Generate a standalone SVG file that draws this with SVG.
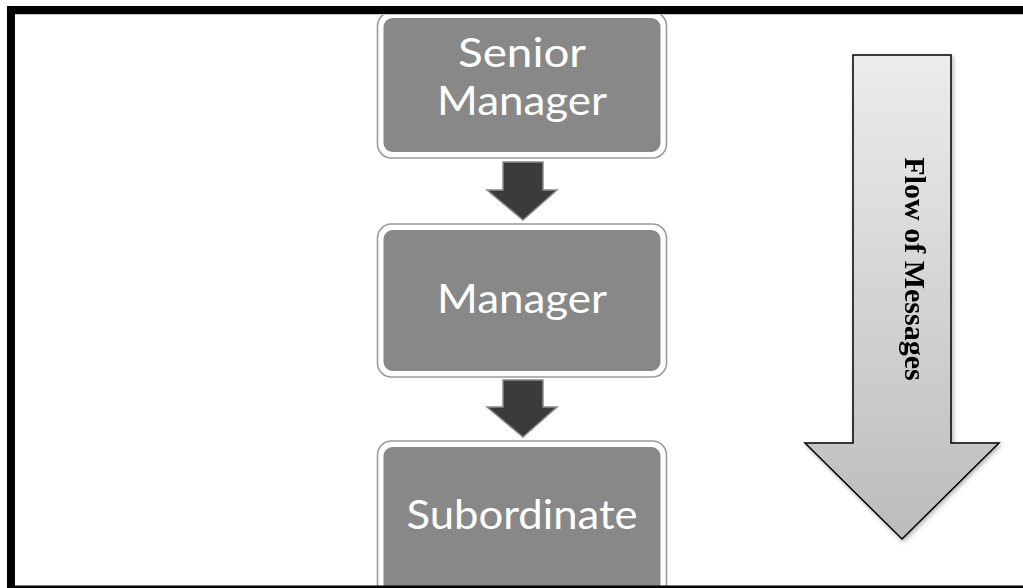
<svg xmlns="http://www.w3.org/2000/svg" width="1023" height="588" viewBox="0 0 1023 588">
  <style>
    .box-edge { fill: none; stroke: #9c9c9c; stroke-width: 1.6; }
    .box-body { fill: #888888; stroke: #ffffff; stroke-width: 4; }
    .box-text { font-family: Lato, "Open Sans", "Liberation Sans", sans-serif; font-size: 40px; fill: #ffffff; text-anchor: middle; }
    .step { fill: #3b3b3b; stroke: #8a8a8a; stroke-width: 1.5; stroke-linejoin: miter; }
    .flow-text { font-family: "Liberation Serif", "Times New Roman", serif; font-size: 30px; font-weight: bold; fill: #000000; text-anchor: middle; }
  </style>
  <defs>
    <linearGradient id="flowFill" x1="0" y1="0" x2="0" y2="1">
      <stop offset="0" stop-color="#ececec"/>
      <stop offset="1" stop-color="#bcbcbc"/>
    </linearGradient>
    <filter id="softShadow" x="-10%" y="-10%" width="130%" height="130%">
      <feDropShadow dx="1.5" dy="2" stdDeviation="2" flood-color="#000000" flood-opacity="0.3"/>
    </filter>
  </defs>

  <rect x="0" y="0" width="1023" height="588" fill="#ffffff"/>

  <!-- hierarchy boxes -->
  <g id="node-senior-manager">
    <rect class="box-edge" x="377.5" y="12" width="289" height="146" rx="14"/>
    <rect class="box-body" x="381.5" y="16" width="281" height="138" rx="11"/>
    <text class="box-text" x="522" y="67" textLength="128" lengthAdjust="spacingAndGlyphs">Senior</text>
    <text class="box-text" x="522" y="115" textLength="170" lengthAdjust="spacingAndGlyphs">Manager</text>
  </g>

  <g id="node-manager">
    <rect class="box-edge" x="377.5" y="224" width="289" height="153" rx="14"/>
    <rect class="box-body" x="381.5" y="228" width="281" height="145" rx="11"/>
    <text class="box-text" x="522" y="313" textLength="170" lengthAdjust="spacingAndGlyphs">Manager</text>
  </g>

  <g id="node-subordinate">
    <rect class="box-edge" x="377.5" y="441" width="289" height="160" rx="14"/>
    <rect class="box-body" x="381.5" y="445" width="281" height="152" rx="11"/>
    <text class="box-text" x="522" y="529" textLength="231" lengthAdjust="spacingAndGlyphs">Subordinate</text>
  </g>

  <!-- block arrows between levels -->
  <g id="connectors">
    <path class="step" d="M503,162 H543 V190 H557 L523,220 L487,190 H503 Z"/>
    <path class="step" d="M503,380 H543 V407 H557 L523,437 L487,407 H503 Z"/>
  </g>

  <!-- direction indicator -->
  <g id="flow-of-messages" filter="url(#softShadow)">
    <path d="M853,55 H951 V443 H999 L902,539 L805,443 H853 Z" fill="url(#flowFill)" stroke="#000000" stroke-width="1.5" stroke-linejoin="miter"/>
    <text class="flow-text" transform="translate(905,269) rotate(90)">Flow of Messages</text>
  </g>

  <!-- outer frame -->
  <path d="M11,1000 V10 H1040" fill="none" stroke="#000000" stroke-width="8"/>
  <line x1="7" y1="587" x2="1023" y2="587" stroke="#000000" stroke-width="3"/>
  <line x1="15" y1="14.5" x2="1023" y2="14.5" stroke="#c8c8c8" stroke-width="1"/>
</svg>
